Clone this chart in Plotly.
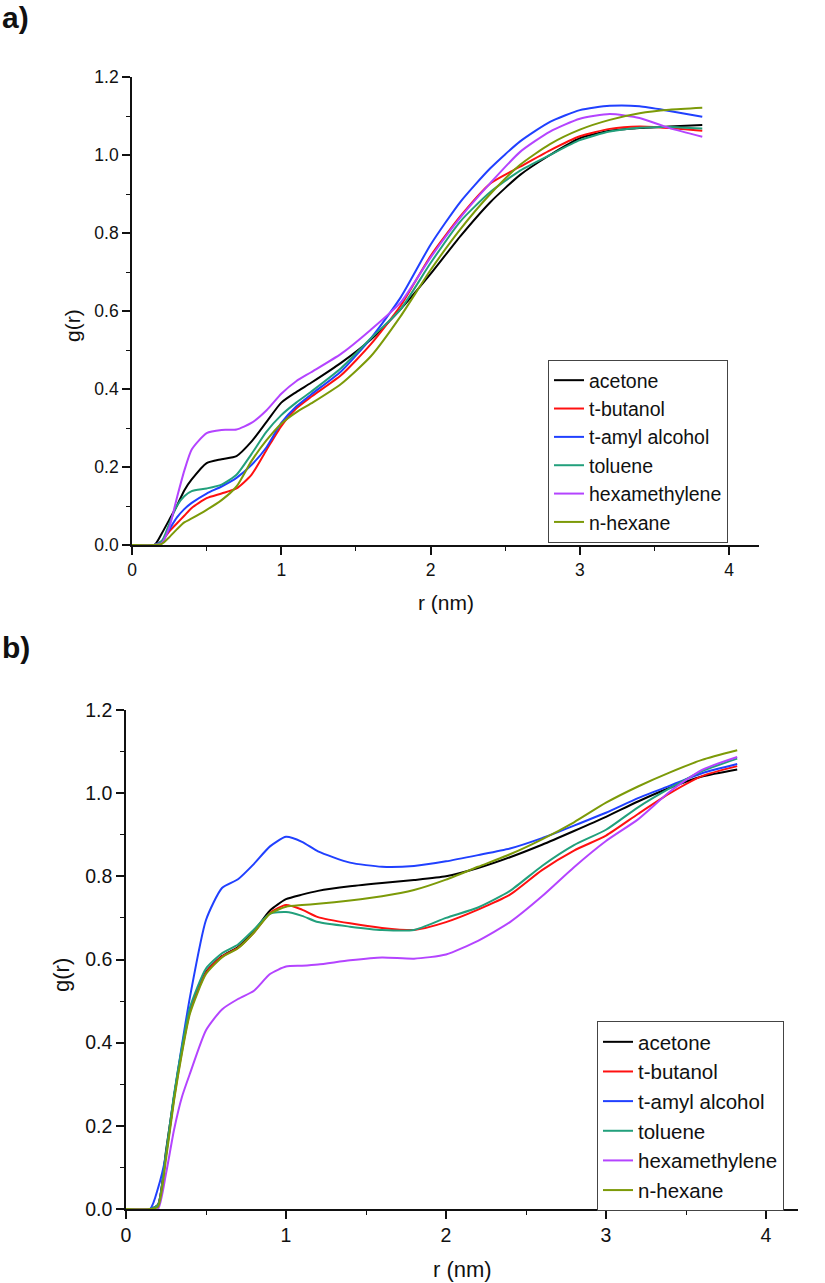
import plotly.graph_objects as go

# ---------------- data ----------------
R_GRID = [0, 0.15, 0.2, 0.25, 0.3, 0.35, 0.4, 0.5, 0.6, 0.7, 0.8, 0.9, 1.0, 1.1, 1.2,
          1.4, 1.6, 1.8, 2.0, 2.2, 2.4, 2.6, 2.8, 3.0, 3.2, 3.4, 3.6, 3.82]

SERIES = ["acetone", "t-butanol", "t-amyl alcohol", "toluene", "hexamethylene", "n-hexane"]
COLORS = ["#000000", "#FF1010", "#2040FF", "#22A07C", "#B444FF", "#7C9A08"]

# panel a)
A_ACETONE = [0, 0, 0.03, 0.065, 0.10, 0.14, 0.168, 0.21, 0.22, 0.228, 0.265, 0.315, 0.365, 0.392, 0.416,
             0.467, 0.527, 0.605, 0.695, 0.792, 0.879, 0.949, 1.0, 1.043, 1.062, 1.069, 1.073, 1.077]
A_TBUTANOL = [0, 0, 0.01, 0.035, 0.055, 0.075, 0.095, 0.12, 0.132, 0.145, 0.18, 0.243, 0.305, 0.35, 0.38,
              0.435, 0.515, 0.614, 0.741, 0.843, 0.927, 0.970, 1.012, 1.048, 1.067, 1.073, 1.069, 1.062]
A_TAMYL = [0, 0, 0.01, 0.04, 0.07, 0.092, 0.108, 0.132, 0.15, 0.172, 0.205, 0.25, 0.313, 0.355, 0.386,
           0.445, 0.53, 0.635, 0.77, 0.88, 0.966, 1.035, 1.085, 1.115, 1.126, 1.125, 1.113, 1.098]
A_TOLUENE = [0, 0, 0.01, 0.055, 0.10, 0.125, 0.138, 0.145, 0.155, 0.18, 0.233, 0.29, 0.333, 0.365, 0.393,
             0.453, 0.53, 0.605, 0.723, 0.83, 0.905, 0.96, 1.0, 1.038, 1.06, 1.07, 1.072, 1.068]
A_HEXAMETHYLENE = [0, 0, 0.005, 0.045, 0.12, 0.19, 0.245, 0.287, 0.295, 0.296, 0.313, 0.345, 0.388, 0.42, 0.443,
                   0.49, 0.552, 0.622, 0.737, 0.84, 0.928, 1.008, 1.06, 1.093, 1.105, 1.095, 1.069, 1.047]
A_NHEXANE = [0, 0, 0.003, 0.02, 0.04, 0.058, 0.068, 0.09, 0.115, 0.15, 0.215, 0.268, 0.311, 0.34, 0.363,
             0.413, 0.484, 0.587, 0.705, 0.81, 0.90, 0.975, 1.028, 1.065, 1.09, 1.107, 1.116, 1.121]

# panel b)
B_ACETONE = [0, 0, 0.01, 0.14, 0.27, 0.385, 0.478, 0.57, 0.608, 0.63, 0.668, 0.718, 0.745, 0.756, 0.765,
             0.776, 0.784, 0.791, 0.80, 0.82, 0.846, 0.876, 0.909, 0.943, 0.98, 1.013, 1.04, 1.057]
B_TBUTANOL = [0, 0, 0.01, 0.13, 0.265, 0.38, 0.475, 0.568, 0.607, 0.628, 0.665, 0.712, 0.731, 0.72, 0.702,
              0.687, 0.676, 0.671, 0.69, 0.72, 0.756, 0.815, 0.862, 0.898, 0.95, 1.0, 1.041, 1.065]
B_TAMYL = [0, 0, 0.05, 0.13, 0.27, 0.395, 0.51, 0.695, 0.772, 0.793, 0.83, 0.872, 0.895, 0.883, 0.86,
           0.833, 0.823, 0.825, 0.836, 0.851, 0.867, 0.892, 0.922, 0.953, 0.988, 1.018, 1.048, 1.07]
B_TOLUENE = [0, 0, 0.01, 0.135, 0.275, 0.39, 0.485, 0.578, 0.615, 0.636, 0.672, 0.71, 0.714, 0.705, 0.69,
             0.679, 0.671, 0.671, 0.70, 0.725, 0.765, 0.825, 0.875, 0.912, 0.966, 1.012, 1.053, 1.083]
B_HEXAMETHYLENE = [0, 0, 0, 0.085, 0.19, 0.27, 0.326, 0.43, 0.48, 0.505, 0.525, 0.565, 0.583, 0.585, 0.588,
                   0.598, 0.605, 0.602, 0.612, 0.645, 0.69, 0.752, 0.822, 0.885, 0.937, 1.004, 1.056, 1.087]
B_NHEXANE = [0, 0, 0.005, 0.12, 0.26, 0.375, 0.47, 0.565, 0.605, 0.627, 0.665, 0.71, 0.727, 0.731, 0.734,
             0.742, 0.752, 0.767, 0.792, 0.823, 0.853, 0.889, 0.93, 0.977, 1.016, 1.05, 1.08, 1.103]

X_TICKS = [0, 1, 2, 3, 4]
Y_TICKS = [0.0, 0.2, 0.4, 0.6, 0.8, 1.0, 1.2]

PANEL_A = [A_ACETONE, A_TBUTANOL, A_TAMYL, A_TOLUENE, A_HEXAMETHYLENE, A_NHEXANE]
PANEL_B = [B_ACETONE, B_TBUTANOL, B_TAMYL, B_TOLUENE, B_HEXAMETHYLENE, B_NHEXANE]

# ---------------- figure ----------------
W, H = 825, 1283
FONT = "Liberation Sans, Arial, sans-serif"

def px(x):
    return x / W

def py(y):
    return 1 - y / H

fig = go.Figure()

for name, color, vals in zip(SERIES, COLORS, PANEL_A):
    fig.add_trace(go.Scatter(x=R_GRID, y=vals, mode="lines", name=name,
                             line=dict(color=color, width=2, shape="spline", smoothing=0.6),
                             xaxis="x", yaxis="y", legend="legend"))
for name, color, vals in zip(SERIES, COLORS, PANEL_B):
    fig.add_trace(go.Scatter(x=R_GRID, y=vals, mode="lines", name=name,
                             line=dict(color=color, width=2, shape="spline", smoothing=0.6),
                             xaxis="x2", yaxis="y2", legend="legend2"))

def xaxis(domain, anchor, fs):
    return dict(domain=domain, anchor=anchor, range=[0, 4.2], tickvals=X_TICKS,
                showline=True, linecolor="#111", linewidth=1.6, mirror=False,
                ticks="outside", ticklen=8, tickwidth=1.6, tickcolor="#111",
                minor=dict(ticks="outside", ticklen=4, tickwidth=1.4, tickcolor="#111", dtick=0.5),
                showgrid=False, zeroline=False, automargin=False,
                tickfont=dict(family=FONT, size=fs, color="#111"))

def yaxis(domain, anchor, fs):
    return dict(domain=domain, anchor=anchor, range=[0, 1.2], tickvals=Y_TICKS, tickformat=".1f",
                showline=True, linecolor="#111", linewidth=1.6, mirror=False,
                ticks="outside", ticklen=8, tickwidth=1.6, tickcolor="#111",
                minor=dict(ticks="outside", ticklen=4, tickwidth=1.4, tickcolor="#111", dtick=0.1),
                showgrid=False, zeroline=False, automargin=False,
                tickfont=dict(family=FONT, size=fs, color="#111"))

fig.update_layout(
    width=W, height=H,
    margin=dict(l=0, r=0, t=0, b=0),
    paper_bgcolor="white", plot_bgcolor="white",
    font=dict(family=FONT, color="#111"),
    xaxis=xaxis([px(132), px(759)], "y", 17.5),
    yaxis=yaxis([py(545), py(77)], "x", 17.5),
    xaxis2=xaxis([px(126), px(798)], "y2", 19.5),
    yaxis2=yaxis([py(1209), py(710)], "x2", 19.5),
    legend=dict(x=px(548), y=py(360), xanchor="left", yanchor="top",
                bgcolor="white", bordercolor="#444", borderwidth=1,
                font=dict(family=FONT, size=19.5, color="#111"), tracegroupgap=0),
    legend2=dict(x=px(597), y=py(1021), xanchor="left", yanchor="top",
                 bgcolor="white", bordercolor="#444", borderwidth=1,
                 font=dict(family=FONT, size=20.5, color="#111"), tracegroupgap=0),
    showlegend=True,
)

annos = [
    dict(text="<b>a)</b>", x=px(0), y=py(-1), xanchor="left", yanchor="top", font=dict(size=30)),
    dict(text="<b>b)</b>", x=px(0), y=py(629), xanchor="left", yanchor="top", font=dict(size=30)),
    dict(text="g(r)", x=px(72), y=py(326), textangle=-90, xanchor="center", yanchor="middle", font=dict(size=21)),
    dict(text="g(r)", x=px(61), y=py(975), textangle=-90, xanchor="center", yanchor="middle", font=dict(size=22)),
    dict(text="r (nm)", x=px(446), y=py(602), xanchor="center", yanchor="middle", font=dict(size=21)),
    dict(text="r (nm)", x=px(462), y=py(1269), xanchor="center", yanchor="middle", font=dict(size=22)),
]
for a in annos:
    a.update(xref="paper", yref="paper", showarrow=False)
    a["font"].update(family=FONT, color="#111")
fig.update_layout(annotations=annos)

fig.write_html("out.html", config={"displayModeBar": False},
               post_script="document.body.style.margin='0px';")
